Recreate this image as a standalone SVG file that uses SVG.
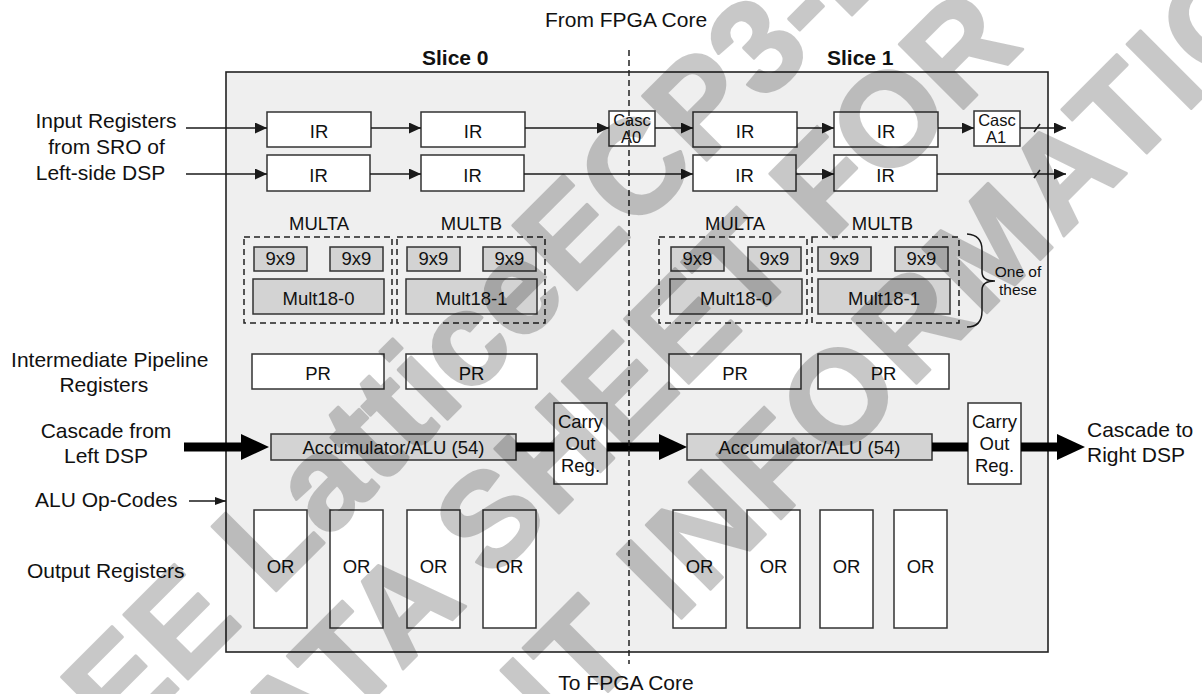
<svg xmlns="http://www.w3.org/2000/svg" width="1202" height="694" viewBox="0 0 1202 694">
<defs>
<marker id="ah" markerWidth="12" markerHeight="11" refX="12" refY="5.5" orient="auto" markerUnits="userSpaceOnUse"><path d="M0,0 L12,5.5 L0,11 Z" fill="#1a1a1a"/></marker>
<marker id="ahs" markerWidth="11" markerHeight="8" refX="11" refY="4" orient="auto" markerUnits="userSpaceOnUse"><path d="M0,0 L11,4 L0,8 Z" fill="#1a1a1a"/></marker>
<marker id="ahb" markerWidth="28" markerHeight="26" refX="0" refY="13" orient="auto" markerUnits="userSpaceOnUse"><path d="M0,0 L28,13 L0,26 Z" fill="#000"/></marker>
</defs>
<style>
text{font-family:"Liberation Sans",Arial,Helvetica,sans-serif;fill:#111}
.lbl{font-size:21px}
.ttl{font-size:21px;font-weight:bold}
.bx{font-size:18.5px;text-anchor:middle}
.sm{font-size:16.5px;text-anchor:middle}
.w{fill:#fff;stroke:#333;stroke-width:1.5}
.g{fill:#d3d3d3;stroke:#333;stroke-width:1.5}
.dash{fill:none;stroke:#222;stroke-width:1.5;stroke-dasharray:6,4}
.ln{stroke:#1a1a1a;stroke-width:1.5;fill:none}
.thick{stroke:#000;stroke-width:9;fill:none}
.wm{opacity:0.21}
.wm text{font-family:"Liberation Sans",Arial,sans-serif;font-weight:bold;font-size:132px;fill:#000;stroke:#000;stroke-width:3;stroke-linejoin:round}
</style>
<rect width="1202" height="694" fill="#fff"/>
<g id="dsp-block">
<rect x="226" y="72" width="822" height="580" fill="#efefef" stroke="#222" stroke-width="1.6"/>
</g>
<g id="titles">
<text class="lbl" x="626" y="27" text-anchor="middle">From FPGA Core</text>
<text class="lbl" x="626" y="690" text-anchor="middle">To FPGA Core</text>
<text class="ttl" x="422" y="65">Slice 0</text>
<text class="ttl" x="827" y="65">Slice 1</text>
</g>
<g id="side-labels">
<text class="lbl" x="106" y="128" text-anchor="middle">Input Registers</text>
<text class="lbl" x="106.5" y="154" text-anchor="middle">from SRO of</text>
<text class="lbl" x="100.5" y="180" text-anchor="middle">Left-side DSP</text>
<text class="lbl" x="109.7" y="366.5" text-anchor="middle">Intermediate Pipeline</text>
<text class="lbl" x="103.8" y="391.5" text-anchor="middle">Registers</text>
<text class="lbl" x="106" y="438" text-anchor="middle">Cascade from</text>
<text class="lbl" x="106" y="462.5" text-anchor="middle">Left DSP</text>
<text class="lbl" x="35" y="507">ALU Op-Codes</text>
<text class="lbl" x="27" y="578">Output Registers</text>
<text class="lbl" x="1087" y="436.5">Cascade to</text>
<text class="lbl" x="1087" y="461.5">Right DSP</text>
</g>
<g id="input-registers">
<g id="ir-s0-a1"><rect class="w" x="267" y="112" width="104" height="35"/><text class="bx" x="319" y="138">IR</text></g>
<g id="ir-s0-b1"><rect class="w" x="421" y="112" width="104" height="35"/><text class="bx" x="473" y="138">IR</text></g>
<g id="ir-s1-a1"><rect class="w" x="693" y="112" width="104" height="35"/><text class="bx" x="745" y="138">IR</text></g>
<g id="ir-s1-b1"><rect class="w" x="834" y="112" width="104" height="35"/><text class="bx" x="886" y="138">IR</text></g>
<g id="ir-s0-a2"><rect class="w" x="267" y="155" width="103" height="36"/><text class="bx" x="318.5" y="181.5">IR</text></g>
<g id="ir-s0-b2"><rect class="w" x="421" y="155" width="103" height="36"/><text class="bx" x="472.5" y="181.5">IR</text></g>
<g id="ir-s1-a2"><rect class="w" x="693" y="155" width="103" height="36"/><text class="bx" x="744.5" y="181.5">IR</text></g>
<g id="ir-s1-b2"><rect class="w" x="834" y="155" width="103" height="36"/><text class="bx" x="885.5" y="181.5">IR</text></g>
<g id="casc-a0"><rect class="w" x="609" y="111" width="46" height="35"/><text class="sm" x="632" y="126">Casc</text><text class="sm" x="631" y="142.5">A0</text></g>
<g id="casc-a1"><rect class="w" x="974" y="111" width="46" height="35"/><text class="sm" x="997" y="126">Casc</text><text class="sm" x="996" y="142.5">A1</text></g>
</g>
<g id="multipliers">
<text class="bx" x="319" y="230">MULTA</text>
<text class="bx" x="471.5" y="230">MULTB</text>
<text class="bx" x="735" y="230">MULTA</text>
<text class="bx" x="882.5" y="230">MULTB</text>
<g id="multa-s0"><rect class="dash" x="244" y="237" width="148" height="86"/>
<rect class="g" x="254" y="247" width="53" height="24"/><text class="bx" x="280.5" y="265">9x9</text>
<rect class="g" x="330" y="247" width="53" height="24"/><text class="bx" x="356.5" y="265">9x9</text>
<rect class="g" x="253" y="279" width="131" height="35"/><text class="bx" x="318.5" y="305">Mult18-0</text></g>
<g id="multb-s0"><rect class="dash" x="397" y="237" width="148" height="86"/>
<rect class="g" x="407" y="247" width="53" height="24"/><text class="bx" x="433.5" y="265">9x9</text>
<rect class="g" x="483" y="247" width="53" height="24"/><text class="bx" x="509.5" y="265">9x9</text>
<rect class="g" x="406" y="279" width="131" height="35"/><text class="bx" x="471.5" y="305">Mult18-1</text></g>
<g id="multa-s1"><rect class="dash" x="659" y="237" width="148" height="86"/>
<rect class="g" x="671" y="247" width="53" height="24"/><text class="bx" x="697.5" y="265">9x9</text>
<rect class="g" x="748" y="247" width="53" height="24"/><text class="bx" x="774.5" y="265">9x9</text>
<rect class="g" x="670" y="279" width="132" height="35"/><text class="bx" x="736" y="305">Mult18-0</text></g>
<g id="multb-s1"><rect class="dash" x="812" y="237" width="147" height="86"/>
<rect class="g" x="818" y="247" width="53" height="24"/><text class="bx" x="844.5" y="265">9x9</text>
<rect class="g" x="895" y="247" width="53" height="24"/><text class="bx" x="921.5" y="265">9x9</text>
<rect class="g" x="818" y="279" width="132" height="35"/><text class="bx" x="884" y="305">Mult18-1</text></g>
<g id="one-of-these"><path class="ln" d="M967,234 Q982,235 982,250 L982,272 Q982,281 995,281 Q982,281 982,290 L982,311 Q982,327 967,327"/>
<text x="1018" y="276.5" font-size="15.5" text-anchor="middle">One of</text>
<text x="1018" y="295" font-size="15.5" text-anchor="middle">these</text></g>
</g>
<g id="pipeline-registers">
<g id="pr-0"><rect class="w" x="252" y="354" width="132" height="35"/><text class="bx" x="318" y="380">PR</text></g>
<g id="pr-1"><rect class="w" x="406" y="354" width="131" height="35"/><text class="bx" x="471.5" y="380">PR</text></g>
<g id="pr-2"><rect class="w" x="669" y="354" width="132" height="35"/><text class="bx" x="735" y="380">PR</text></g>
<g id="pr-3"><rect class="w" x="818" y="354" width="131" height="35"/><text class="bx" x="883.5" y="380">PR</text></g>
</g>
<g id="accumulators">
<g id="alu-s0"><rect class="g" x="271" y="434" width="245" height="26"/><text class="bx" x="393.5" y="453.5">Accumulator/ALU (54)</text></g>
<g id="alu-s1"><rect class="g" x="687" y="434" width="245" height="26"/><text class="bx" x="809.5" y="453.5">Accumulator/ALU (54)</text></g>
<g id="carry-s0"><rect class="w" x="554" y="403" width="53" height="81"/><text class="bx" x="580.5" y="428">Carry</text><text class="bx" x="580.5" y="450">Out</text><text class="bx" x="580.5" y="471.5">Reg.</text></g>
<g id="carry-s1"><rect class="w" x="968" y="403" width="53" height="81"/><text class="bx" x="994.5" y="428">Carry</text><text class="bx" x="994.5" y="450">Out</text><text class="bx" x="994.5" y="471.5">Reg.</text></g>
</g>
<g id="output-registers">
<g id="or-0"><rect class="w" x="254" y="510" width="53" height="118"/><text class="bx" x="280.5" y="572.5">OR</text></g>
<g id="or-1"><rect class="w" x="330" y="510" width="53" height="118"/><text class="bx" x="356.5" y="572.5">OR</text></g>
<g id="or-2"><rect class="w" x="407" y="510" width="53" height="118"/><text class="bx" x="433.5" y="572.5">OR</text></g>
<g id="or-3"><rect class="w" x="483" y="510" width="53" height="118"/><text class="bx" x="509.5" y="572.5">OR</text></g>
<g id="or-4"><rect class="w" x="673" y="510" width="53" height="118"/><text class="bx" x="699.5" y="572.5">OR</text></g>
<g id="or-5"><rect class="w" x="747" y="510" width="53" height="118"/><text class="bx" x="773.5" y="572.5">OR</text></g>
<g id="or-6"><rect class="w" x="820" y="510" width="53" height="118"/><text class="bx" x="846.5" y="572.5">OR</text></g>
<g id="or-7"><rect class="w" x="894" y="510" width="53" height="118"/><text class="bx" x="920.5" y="572.5">OR</text></g>
</g>
<g id="connectors">
<line class="ln" x1="186" y1="128" x2="267" y2="128" marker-end="url(#ah)"/>
<line class="ln" x1="371" y1="128" x2="421" y2="128" marker-end="url(#ah)"/>
<line class="ln" x1="525" y1="128" x2="609" y2="128" marker-end="url(#ah)"/>
<line class="ln" x1="655" y1="128" x2="693" y2="128" marker-end="url(#ah)"/>
<line class="ln" x1="797" y1="128" x2="834" y2="128" marker-end="url(#ah)"/>
<line class="ln" x1="938" y1="128" x2="974" y2="128" marker-end="url(#ah)"/>
<line class="ln" x1="1020" y1="128" x2="1066" y2="128" marker-end="url(#ah)"/>
<line class="ln" x1="1034" y1="132" x2="1040" y2="124"/>
<line class="ln" x1="186" y1="174" x2="267" y2="174" marker-end="url(#ah)"/>
<line class="ln" x1="370" y1="174" x2="421" y2="174" marker-end="url(#ah)"/>
<line class="ln" x1="524" y1="174" x2="693" y2="174" marker-end="url(#ah)"/>
<line class="ln" x1="796" y1="174" x2="834" y2="174" marker-end="url(#ah)"/>
<line class="ln" x1="937" y1="174" x2="1066" y2="174" marker-end="url(#ah)"/>
<line class="ln" x1="1034" y1="178" x2="1040" y2="170"/>
<line class="ln" x1="189" y1="501" x2="226" y2="501" marker-end="url(#ahs)"/>
<line class="thick" x1="184" y1="447" x2="241" y2="447" marker-end="url(#ahb)"/>
<line class="thick" x1="516" y1="447" x2="554" y2="447"/>
<line class="thick" x1="607" y1="447" x2="659" y2="447" marker-end="url(#ahb)"/>
<line class="thick" x1="932" y1="447" x2="968" y2="447"/>
<line class="thick" x1="1021" y1="447" x2="1057" y2="447" marker-end="url(#ahb)"/>
<line class="dash" x1="629" y1="50" x2="629" y2="664" stroke-dasharray="7,4"/>
</g>
<g id="watermark" class="wm" transform="rotate(-45)">
<text x="-532" y="613">SEE LatticeECP3-EA</text>
<text x="-443" y="758">DATA SHEET FOR</text>
<text x="-680" y="919" textLength="1680" lengthAdjust="spacing">CURRENT INFORMATION</text>
</g>
</svg>
